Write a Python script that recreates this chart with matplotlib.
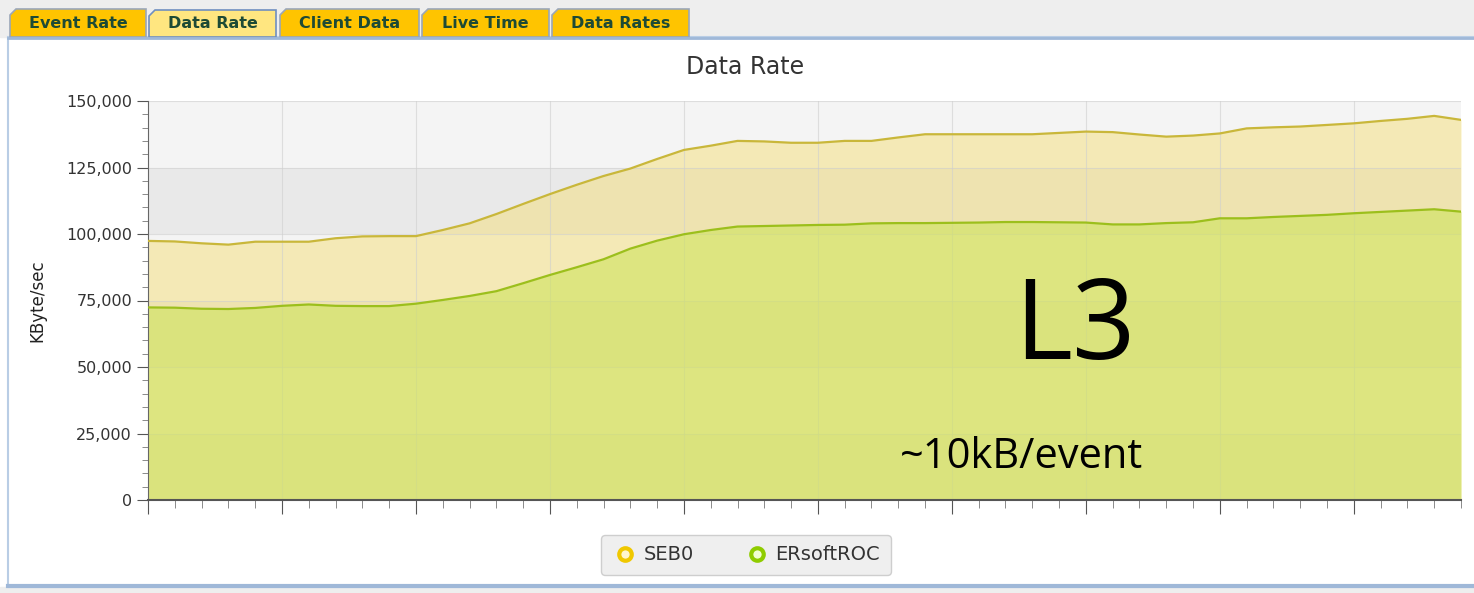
import matplotlib.pyplot as plt
from matplotlib.patches import Rectangle, Polygon
from matplotlib.lines import Line2D
from matplotlib.ticker import MultipleLocator, FuncFormatter, NullFormatter

# data rate samples, KByte/sec
seb0 = [97.4, 97.2, 96.5, 96.0, 97.1, 97.1, 97.1, 98.4, 99.1, 99.2,
        99.2, 101.5, 104.0, 107.5, 111.3, 115.0, 118.5, 121.8, 124.6, 128.2,
        131.6, 133.2, 135.0, 134.8, 134.3, 134.3, 135.0, 135.0, 136.3, 137.5,
        137.5, 137.5, 137.5, 137.5, 138.0, 138.5, 138.3, 137.4, 136.6, 137.0,
        137.8, 139.7, 140.1, 140.4, 141.0, 141.6, 142.5, 143.3, 144.4, 142.9]
ersoftroc = [72.4, 72.3, 71.9, 71.8, 72.2, 73.0, 73.5, 73.0, 72.9, 72.9,
             73.8, 75.2, 76.7, 78.5, 81.5, 84.6, 87.5, 90.5, 94.5, 97.5,
             99.9, 101.5, 102.8, 103.0, 103.2, 103.4, 103.5, 104.0, 104.1, 104.1,
             104.2, 104.3, 104.5, 104.5, 104.4, 104.3, 103.6, 103.6, 104.1, 104.4,
             105.9, 105.9, 106.4, 106.8, 107.2, 107.8, 108.3, 108.8, 109.3, 108.4]
seb0 = [v * 1000 for v in seb0]
ersoftroc = [v * 1000 for v in ersoftroc]
x = list(range(len(seb0)))

tabs = ["Event Rate", "Data Rate", "Client Data", "Live Time", "Data Rates"]
tab_x = [(10, 146), (149, 276), (280, 419), (422, 549), (552, 689)]

W, H = 1474, 593
fig = plt.figure(figsize=(W / 100, H / 100), dpi=100)
fig.patch.set_facecolor('white')

# window chrome in pixel coordinates
bg = fig.add_axes([0, 0, 1, 1], zorder=0)
bg.set_xlim(0, W)
bg.set_ylim(H, 0)
bg.axis('off')
bg.add_patch(Rectangle((0, 0), W, 37, color='#eeeeee'))
bg.add_patch(Rectangle((0, 587), W, 10, color='#eeeeee'))
bg.add_patch(Rectangle((8, 37), W, 550, facecolor='white', edgecolor='#b9cde5', lw=1.5))
bg.plot([8, W], [38, 38], color='#9fb8d8', lw=2)
bg.plot([8, W], [586, 586], color='#9fb8d8', lw=3)
for name, (x0, x1) in zip(tabs, tab_x):
    sel = name == "Data Rate"
    y0 = 10 if sel else 9
    pts = [(x0, 37), (x0, y0 + 6), (x0 + 6, y0), (x1, y0), (x1, 37)]
    bg.add_patch(Polygon(pts, closed=True, facecolor='#ffe680' if sel else '#ffc400',
                         edgecolor='#6f8fc0' if sel else '#9aa6b8', lw=1.2))
    bg.text((x0 + x1) / 2, 23, name, ha='center', va='center', fontsize=11.5,
            fontweight='bold', color='#1d4a35', family='DejaVu Sans Condensed')

ax = fig.add_axes([148 / W, 93 / H, 1313 / W, 399 / H], zorder=1)
ax.set_xlim(0, 49)
ax.set_ylim(0, 150000)

# alternating background bands
for k in range(6):
    ax.axhspan(k * 25000, (k + 1) * 25000, color='#f4f4f4' if k % 2 else '#e9e9e9', lw=0, zorder=0)

ax.fill_between(x, 0, seb0, color='#f5dd6b', alpha=0.45, lw=0, zorder=1)
ax.fill_between(x, 0, ersoftroc, color='#cee35c', alpha=0.6, lw=0, zorder=2)
ax.plot(x, seb0, color='#c9b73a', lw=1.6, zorder=3)
ax.plot(x, ersoftroc, color='#9cbf1c', lw=1.6, zorder=3)

ax.xaxis.set_major_locator(MultipleLocator(5))
ax.xaxis.set_minor_locator(MultipleLocator(1))
ax.xaxis.set_major_formatter(NullFormatter())
ax.yaxis.set_major_locator(MultipleLocator(25000))
ax.yaxis.set_minor_locator(MultipleLocator(5000))
ax.yaxis.set_major_formatter(FuncFormatter(lambda v, p: f"{int(v):,}"))
ax.grid(True, which='major', color='#cfcfcf', lw=0.8)
for g in ax.get_xgridlines() + ax.get_ygridlines():
    g.set_zorder(2.5)
    g.set_alpha(0.6)

for s in ['top', 'right']:
    ax.spines[s].set_visible(False)
ax.spines['left'].set_color('#666666')
ax.spines['bottom'].set_color('#555555')
ax.spines['bottom'].set_linewidth(1.5)
ax.tick_params(axis='both', which='major', length=8, color='#555555', labelsize=11.5, labelcolor='#333333')
ax.tick_params(axis='both', which='minor', length=4, color='#777777')
ax.tick_params(axis='x', which='major', length=10)
ax.tick_params(axis='x', which='minor', length=6)
ax.set_ylabel("KByte/sec", fontsize=12, color='#222222', labelpad=14)

fig.text(745 / W, 1 - 67 / H, "Data Rate", ha='center', va='center', fontsize=17, color='#333333')

fig.text(1075 / W, 1 - 330 / H, "L3", ha='center', va='center', fontsize=80, family='Open Sans', color='black')
fig.text(1022 / W, 1 - 457 / H, "~10kB/event", ha='center', va='center', fontsize=30, family='Open Sans', color='black')

handles = [Line2D([], [], ls='none', marker='o', ms=9, mfc='#fff6cc', mec='#f0c800', mew=3),
           Line2D([], [], ls='none', marker='o', ms=9, mfc='#f0ffd0', mec='#8fcc00', mew=3)]
leg = fig.legend(handles, ["SEB0", "ERsoftROC"], loc='center', bbox_to_anchor=(746 / W, 1 - 555 / H),
                 ncol=2, fontsize=14, frameon=True, fancybox=True, facecolor='#ebebeb',
                 edgecolor='#c4c4c4', columnspacing=2.6, handletextpad=0.3, borderpad=0.55,
                 handlelength=1.3)
for t in leg.get_texts():
    t.set_color('#333333')

fig.savefig("out.png", dpi=100)
